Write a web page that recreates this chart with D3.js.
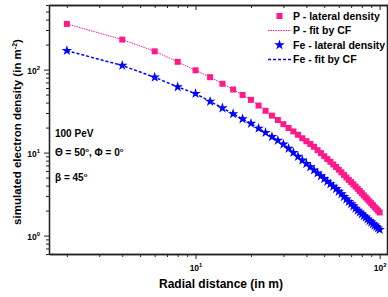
<!DOCTYPE html>
<html>
<head>
<meta charset="utf-8">
<script src="https://cdn.jsdelivr.net/npm/d3@7"></script>
<style>
  body { margin: 0; background: #fff; }
  text { font-family: "Liberation Sans", Arial, sans-serif; font-weight: bold; }
</style>
</head>
<body>
<script>
// radial distances (m)
var radius = [2,4,6,8,10,12,14,16,18,20,22,24,26,28,30,32,34,36,38,40,
              42,44,46,48,50,52,54,56,58,60,62,64,66,68,70,72,74,76,78,80,
              82,84,86,88,90,92,94,96,98,100];

// proton lateral density (m^-2)
var pDensity = [355,230,166,124,98,81,67.5,57.5,49.5,43.2,36.9,31.9,27.9,24.7,22.0,19.8,18.0,16.4,14.9,13.7,
                12.7,11.75,10.7,9.84,9.04,8.35,7.75,7.19,6.70,6.22,5.78,5.38,5.01,4.69,4.41,4.14,3.90,3.66,3.44,3.24,
                3.05,2.88,2.73,2.58,2.45,2.32,2.20,2.10,2.00,1.90];

// iron lateral density (m^-2)
var feDensity = [169,112,80.7,61.8,51.4,41.3,34.4,29.3,25.4,22.4,19.6,17.4,15.5,14.0,12.6,11.2,9.98,8.96,8.07,7.35,
                 6.71,6.15,5.65,5.22,4.83,4.49,4.19,3.91,3.66,3.40,3.17,2.94,2.74,2.56,2.41,2.27,2.13,2.01,1.91,1.82,
                 1.73,1.66,1.58,1.51,1.45,1.38,1.33,1.28,1.23,1.18];

var xMajor = [10, 100];
var xMinor = [2,3,4,5,6,7,8,9,20,30,40,50,60,70,80,90];
var yMajor = [1, 10, 100];
var yMinor = [0.6,0.7,0.8,0.9,2,3,4,5,6,7,8,9,20,30,40,50,60,70,80,90,200,300,400,500,600];

var legendLabels = ["P - lateral density", "P - fit by CF", "Fe - lateral density", "Fe - fit by CF"];

var pink = "#ff1a8c", blue = "#0000ff";

var w = 388, h = 297;
var svg = d3.select("body").append("svg").attr("width", w).attr("height", h);

var x = d3.scaleLog().domain([1.6, 111]).range([49, 388]);
var y = d3.scaleLog().domain([0.6, 600]).range([254, 5]);

var pData = radius.map(function(r, i) { return [r, pDensity[i]]; });
var feData = radius.map(function(r, i) { return [r, feDensity[i]]; });

// power-of-ten labels with superscript
function powLabel(sel) {
  sel.each(function(d) {
    var t = d3.select(this);
    t.text(null);
    t.append("tspan").text("10");
    t.append("tspan").attr("font-size", "6px").attr("dy", "-4").text(Math.round(Math.log10(d)));
  });
}

function axisStyle(g) {
  g.selectAll("path.domain").attr("stroke", "#222").attr("stroke-width", 1.3);
  g.selectAll(".tick line").attr("stroke", "#222").attr("stroke-width", 1);
}

// bottom
svg.append("g").attr("transform", "translate(0,254)")
  .call(d3.axisBottom(x).tickValues(xMinor).tickSize(3).tickSizeOuter(0).tickFormat(""))
  .call(axisStyle);
svg.append("g").attr("transform", "translate(0,254)")
  .call(d3.axisBottom(x).tickValues(xMajor).tickSize(5).tickSizeOuter(0))
  .call(axisStyle)
  .call(function(g) {
    g.selectAll(".tick text").attr("font-size", "8.5px").attr("fill", "#000").attr("dy", "1.1em").call(powLabel);
  });
// top
svg.append("g").attr("transform", "translate(0,5)")
  .call(d3.axisBottom(x).tickValues(xMinor).tickSize(3).tickSizeOuter(0).tickFormat(""))
  .call(axisStyle);
svg.append("g").attr("transform", "translate(0,5)")
  .call(d3.axisBottom(x).tickValues(xMajor).tickSize(5).tickSizeOuter(0).tickFormat(""))
  .call(axisStyle);
// left
svg.append("g").attr("transform", "translate(49,0)")
  .call(d3.axisLeft(y).tickValues(yMinor).tickSize(3).tickSizeOuter(0).tickFormat(""))
  .call(axisStyle);
svg.append("g").attr("transform", "translate(49,0)")
  .call(d3.axisLeft(y).tickValues(yMajor).tickSize(5).tickSizeOuter(0))
  .call(axisStyle)
  .call(function(g) {
    g.selectAll(".tick text").attr("font-size", "8.5px").attr("fill", "#000").attr("x", -9).attr("dy", "0.5em").call(powLabel);
  });
// right
svg.append("g").attr("transform", "translate(387,0)")
  .call(d3.axisLeft(y).tickValues(yMinor).tickSize(-3).tickSizeOuter(0).tickFormat(""))
  .call(axisStyle);
svg.append("g").attr("transform", "translate(387,0)")
  .call(d3.axisLeft(y).tickValues(yMajor).tickSize(-5).tickSizeOuter(0).tickFormat(""))
  .call(axisStyle);

// fit lines
var line = d3.line().x(function(d) { return x(d[0]); }).y(function(d) { return y(d[1]); });
svg.append("path").datum(pData).attr("d", line)
  .attr("fill", "none").attr("stroke", pink).attr("stroke-width", 1).attr("stroke-dasharray", "1.5,1");
svg.append("path").datum(feData).attr("d", line)
  .attr("fill", "none").attr("stroke", blue).attr("stroke-width", 1.5).attr("stroke-dasharray", "3,2");

// markers
svg.selectAll("rect.p").data(pData).enter().append("rect")
  .attr("class", "p")
  .attr("x", function(d) { return x(d[0]) - 3; })
  .attr("y", function(d) { return y(d[1]) - 3; })
  .attr("width", 6).attr("height", 6)
  .attr("fill", pink);

var star = d3.symbol().type(d3.symbolStar).size(34);
svg.selectAll("path.fe").data(feData).enter().append("path")
  .attr("class", "fe")
  .attr("d", star)
  .attr("transform", function(d) { return "translate(" + x(d[0]) + "," + y(d[1]) + ")"; })
  .attr("fill", blue);

// legend
var lg = svg.append("g");
legendLabels.forEach(function(label, i) {
  var ly = 16 + i * 14.5;
  if (i == 0) {
    lg.append("rect").attr("x", 276.5).attr("y", ly - 3).attr("width", 6).attr("height", 6).attr("fill", pink);
  } else if (i == 2) {
    lg.append("path").attr("d", star).attr("transform", "translate(279.5," + ly + ")").attr("fill", blue);
  } else {
    lg.append("line").attr("x1", 268).attr("x2", 291).attr("y1", ly).attr("y2", ly)
      .attr("stroke", i == 1 ? pink : blue)
      .attr("stroke-width", i == 1 ? 1 : 1.5)
      .attr("stroke-dasharray", i == 1 ? "1.5,1" : "3,2");
  }
  lg.append("text").attr("x", 293).attr("y", ly + 3.8).attr("font-size", "10.5px").text(label);
});

// annotations
svg.append("text").attr("x", 55).attr("y", 137).attr("font-size", "10px").text("100 PeV");
var t2 = svg.append("text").attr("x", 55).attr("y", 156).attr("font-size", "10px");
t2.append("tspan").text("\u0398 = 50");
t2.append("tspan").attr("font-size", "6px").attr("dy", -4).text("o");
t2.append("tspan").attr("dy", 4).text(", \u03A6 = 0");
t2.append("tspan").attr("font-size", "6px").attr("dy", -4).text("o");
var t3 = svg.append("text").attr("x", 55).attr("y", 181).attr("font-size", "10px");
t3.append("tspan").text("\u03B2 = 45");
t3.append("tspan").attr("font-size", "6px").attr("dy", -4).text("o");

// axis titles
svg.append("text").attr("x", 221).attr("y", 288).attr("text-anchor", "middle").attr("font-size", "12px")
  .text("Radial distance (in m)");
var yl = svg.append("text").attr("transform", "translate(21,132) rotate(-90)")
  .attr("text-anchor", "middle").attr("font-size", "11.5px");
yl.append("tspan").text("simulated electron density (in m");
yl.append("tspan").attr("font-size", "7px").attr("dy", -4).text("-2");
yl.append("tspan").attr("dy", 4).text(")");
</script>
</body>
</html>
